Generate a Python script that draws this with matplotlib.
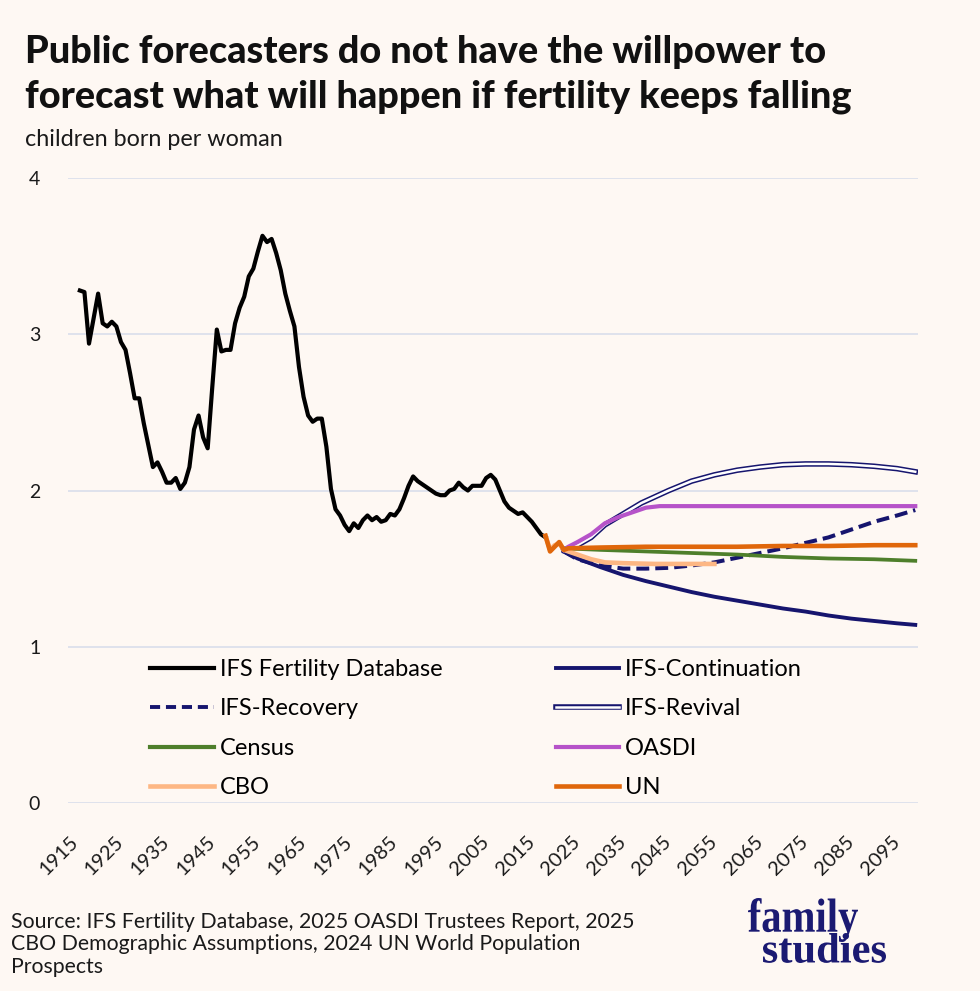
import numpy as np
import matplotlib
matplotlib.use('Agg')
import matplotlib.pyplot as plt
from matplotlib.lines import Line2D
from matplotlib.legend_handler import HandlerTuple
from matplotlib.textpath import TextPath
from matplotlib.font_manager import FontProperties
from matplotlib.patches import PathPatch
from matplotlib.transforms import Affine2D

plt.rcParams['font.family'] = ['Lato', 'DejaVu Sans']

bg = '#FEF8F3'
navy = '#16156E'
grid_col = '#DFE2EC'

# historical TFR (IFS Fertility Database), 1916-2018
hist_years = np.arange(1916, 2019)
hist_tfr = [3.28, 3.27, 2.94, 3.10, 3.26, 3.07, 3.05, 3.08, 3.05, 2.95,
            2.90, 2.75, 2.59, 2.59, 2.43, 2.29, 2.15, 2.18, 2.12, 2.05,
            2.05, 2.08, 2.01, 2.05, 2.15, 2.39, 2.48, 2.34, 2.27, 2.66,
            3.03, 2.89, 2.90, 2.90, 3.07, 3.17, 3.24, 3.37, 3.42, 3.53,
            3.63, 3.59, 3.61, 3.52, 3.41, 3.26, 3.15, 3.05, 2.79, 2.60,
            2.48, 2.44, 2.46, 2.46, 2.28, 2.01, 1.88, 1.84, 1.78, 1.74,
            1.79, 1.76, 1.81, 1.84, 1.81, 1.83, 1.80, 1.81, 1.85, 1.84,
            1.88, 1.95, 2.03, 2.09, 2.06, 2.04, 2.02, 2.00, 1.98, 1.97,
            1.97, 2.00, 2.01, 2.05, 2.02, 2.00, 2.03, 2.03, 2.03, 2.08,
            2.10, 2.07, 2.00, 1.93, 1.89, 1.87, 1.85, 1.86, 1.83, 1.80,
            1.76, 1.72, 1.70]

# projections
cont_years = [2022, 2025, 2030, 2035, 2040, 2045, 2050, 2055, 2060, 2065,
              2070, 2075, 2080, 2085, 2090, 2095, 2099]
cont_tfr = [1.61, 1.565, 1.51, 1.46, 1.42, 1.385, 1.35, 1.32, 1.295, 1.27,
            1.245, 1.225, 1.20, 1.18, 1.165, 1.15, 1.14]

rec_years = [2022, 2025, 2030, 2035, 2040, 2045, 2050, 2055, 2060, 2065,
             2070, 2075, 2080, 2085, 2090, 2095, 2099]
rec_tfr = [1.61, 1.56, 1.52, 1.50, 1.50, 1.505, 1.52, 1.54, 1.57, 1.60,
           1.63, 1.665, 1.70, 1.75, 1.80, 1.84, 1.875]

rev_years = [2022, 2025, 2028, 2031, 2035, 2039, 2045, 2050, 2055, 2060,
             2065, 2070, 2075, 2080, 2085, 2090, 2095, 2099]
rev_tfr = [1.62, 1.65, 1.70, 1.78, 1.85, 1.92, 2.00, 2.06, 2.10, 2.13,
           2.15, 2.165, 2.17, 2.17, 2.165, 2.155, 2.14, 2.12]

census_years = [2022, 2030, 2040, 2050, 2060, 2070, 2080, 2090, 2099]
census_tfr = [1.63, 1.62, 1.61, 1.60, 1.59, 1.575, 1.565, 1.56, 1.55]

oasdi_years = [2022, 2023, 2025, 2028, 2031, 2034, 2037, 2040, 2043, 2045, 2099]
oasdi_tfr = [1.62, 1.64, 1.67, 1.72, 1.79, 1.83, 1.86, 1.89, 1.90, 1.90, 1.90]

cbo_years = [2018, 2019, 2020, 2021, 2022, 2023, 2025, 2028, 2031, 2035, 2042, 2055]
cbo_tfr = [1.71, 1.62, 1.65, 1.66, 1.62, 1.61, 1.59, 1.56, 1.54, 1.535, 1.53, 1.53]

un_years = [2018, 2019, 2020, 2021, 2022, 2023, 2030, 2040, 2050, 2060,
            2070, 2080, 2090, 2099]
un_tfr = [1.71, 1.61, 1.64, 1.67, 1.62, 1.63, 1.635, 1.64, 1.64, 1.64,
          1.645, 1.645, 1.65, 1.65]

W, H = 980, 991
fig = plt.figure(figsize=(W / 100, H / 100), dpi=100, facecolor=bg)
ax = fig.add_axes([68 / W, 1 - 803 / H, 850 / W, 625 / H])
ax.set_facecolor(bg)

ax.plot(hist_years, hist_tfr, color='black', lw=3.0, solid_joinstyle='round')
ax.plot(cont_years, cont_tfr, color=navy, lw=2.8)
ax.plot(rec_years, rec_tfr, color=navy, lw=2.9, dashes=(3.2, 1.5))
ax.plot(rev_years, rev_tfr, color=navy, lw=4.0)
ax.plot(rev_years, rev_tfr, color='white', lw=1.8)
ax.plot(census_years, census_tfr, color='#4E7F2B', lw=2.7)
ax.plot(oasdi_years, oasdi_tfr, color='#B653C9', lw=3.0)
ax.plot(cbo_years, cbo_tfr, color='#FDB784', lw=3.3)
ax.plot(un_years, un_tfr, color='#E0670B', lw=3.3)

ax.set_xlim(1913.4, 2099.6)
ax.set_ylim(0, 4)
ax.set_yticks([0, 1, 2, 3, 4])
ax.set_xticks(range(1915, 2096, 10))
ax.grid(axis='y', color=grid_col, lw=1.4)
ax.set_axisbelow(True)
for s in ax.spines.values():
    s.set_visible(False)
ax.tick_params(length=0, labelsize=14, labelcolor='#1a1a1a')
ax.tick_params(axis='x', labelsize=14.5, pad=26)
ax.tick_params(axis='y', pad=20)
plt.setp(ax.get_xticklabels(), rotation=45, ha='right', va='center',
         rotation_mode='anchor')

# legend
h_black = Line2D([], [], color='black', lw=3.0)
h_cont = Line2D([], [], color=navy, lw=2.8)
h_rec = Line2D([], [], color=navy, lw=2.8, dashes=(2.6, 1.5))
h_rev = (Line2D([], [], color=navy, lw=4.0), Line2D([], [], color='white', lw=1.8))
h_census = Line2D([], [], color='#4E7F2B', lw=3.0)
h_oasdi = Line2D([], [], color='#B653C9', lw=3.0)
h_cbo = Line2D([], [], color='#FDB784', lw=3.3)
h_un = Line2D([], [], color='#E0670B', lw=3.3)
handles = [h_black, h_rec, h_census, h_cbo, h_cont, h_rev, h_oasdi, h_un]
labels = ['IFS Fertility Database', 'IFS-Recovery', 'Census', 'CBO',
          'IFS-Continuation', 'IFS-Revival', 'OASDI', 'UN']
ax.legend(handles, labels, ncol=2, loc='upper left',
          bbox_to_anchor=((150 - 68) / 850, (803 - 659) / 625),
          frameon=False, fontsize=17, borderpad=0, borderaxespad=0,
          handlelength=2.7, handletextpad=0.25, columnspacing=4.8,
          labelspacing=0.78, handler_map={tuple: HandlerTuple(ndivide=1, pad=0)})

# titles
fig.text(25 / W, 1 - 63 / H, 'Public forecasters do not have the willpower to',
         fontsize=27.3, fontweight='black', va='baseline', color='#111111')
fig.text(25 / W, 1 - 107 / H, 'forecast what will happen if fertility keeps falling',
         fontsize=27.3, fontweight='black', va='baseline', color='#111111')
fig.text(25 / W, 1 - 146 / H, 'children born per woman', fontsize=16.8,
         va='baseline', color='#1a1a1a')

src = ('Source: IFS Fertility Database, 2025 OASDI Trustees Report, 2025\n'
       'CBO Demographic Assumptions, 2024 UN World Population\n'
       'Prospects')
fig.text(11 / W, 1 - 973 / H, src, fontsize=15.3, va='baseline',
         linespacing=1.17, color='#1a1a1a')


# logo
def logo_word(word, x0, x1, ytop, ybot):
    fp = FontProperties(family='Liberation Serif', weight='bold')
    tp = TextPath((0, 0), word, size=100, prop=fp)
    bb = tp.get_extents()
    tr = (Affine2D().translate(-bb.x0, -bb.y0)
          .scale((x1 - x0) / bb.width, (ybot - ytop) / bb.height)
          .translate(x0, H - ybot).scale(1 / W, 1 / H))
    fig.add_artist(PathPatch(tr.transform_path(tp), transform=fig.transFigure,
                             fc='#1B1A72', ec='none'))


logo_word('family', 748, 858, 898, 942)
logo_word('studies', 763, 886, 933, 963)

fig.savefig('out.png', dpi=100, facecolor=bg)
